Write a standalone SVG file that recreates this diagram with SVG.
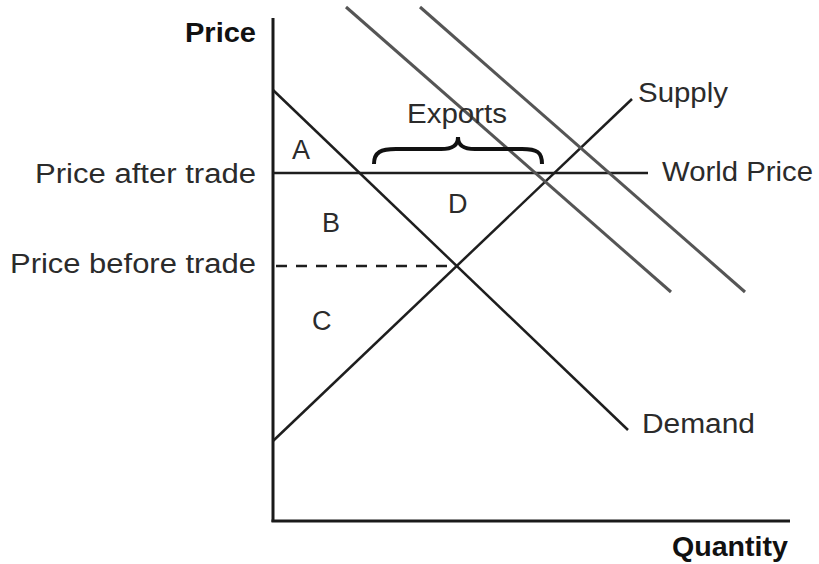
<svg xmlns="http://www.w3.org/2000/svg" width="819" height="564" viewBox="0 0 819 564">
<style>
.lbl{font-family:"Liberation Sans",Arial,sans-serif;font-size:27px;fill:#2b2b2b}
.ttl{font-family:"Liberation Sans",Arial,sans-serif;font-size:27px;font-weight:bold;fill:#111}
.ax{stroke:#1a1a1a;stroke-width:3;fill:none}
.ln{stroke:#1e1e1e;stroke-width:2.5;fill:none}
.sh{stroke:#555;stroke-width:3;fill:none}
</style>
<rect width="819" height="564" fill="#fff"/>
<g id="axes">
<line class="ax" x1="273" y1="18" x2="273" y2="522"/>
<line class="ax" x1="271.5" y1="521" x2="790" y2="521"/>
<text class="ttl" x="185" y="42" textLength="71" lengthAdjust="spacingAndGlyphs">Price</text>
<text class="ttl" x="672" y="556" textLength="116" lengthAdjust="spacingAndGlyphs">Quantity</text>
</g>
<g id="connectors">
<line id="demand" class="ln" x1="273" y1="90" x2="628" y2="430"/>
<line id="supply" class="ln" x1="273" y1="441" x2="632" y2="99"/>
<line id="world-price" class="ln" x1="273" y1="173" x2="648" y2="173"/>
<line id="price-before" class="ln" x1="276" y1="266" x2="456" y2="266" stroke-dasharray="11 9"/>
<line id="shift1" class="sh" x1="346" y1="7" x2="671" y2="292"/>
<line id="shift2" class="sh" x1="420" y1="7" x2="745" y2="292"/>
<path id="brace" d="M374,164 C374,152 381,149 396,149 L441,149 C452,149 458,146 458,137 C458,146 464,149 475,149 L522,149 C537,149 542,152 542,164" fill="none" stroke="#111" stroke-width="4"/>
</g>
<g id="labels">
<text class="lbl" x="638" y="102" textLength="90" lengthAdjust="spacingAndGlyphs">Supply</text>
<text class="lbl" x="662" y="181" textLength="151" lengthAdjust="spacingAndGlyphs">World Price</text>
<text class="lbl" x="642" y="433" textLength="113" lengthAdjust="spacingAndGlyphs">Demand</text>
<text class="lbl" x="407" y="123" textLength="100" lengthAdjust="spacingAndGlyphs">Exports</text>
<text class="lbl" x="35" y="183" textLength="221" lengthAdjust="spacingAndGlyphs">Price after trade</text>
<text class="lbl" x="10" y="273" textLength="246" lengthAdjust="spacingAndGlyphs">Price before trade</text>
<text class="lbl" x="292" y="159">A</text>
<text class="lbl" x="322" y="232">B</text>
<text class="lbl" x="312" y="330">C</text>
<text class="lbl" x="448" y="213">D</text>
</g>
</svg>
